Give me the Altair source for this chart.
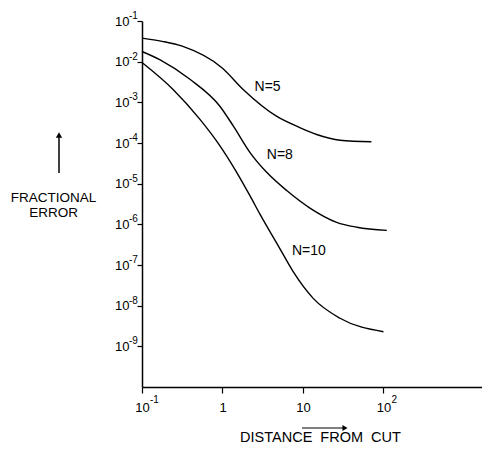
import altair as alt
import pandas as pd

# Readings from the picture (distance from cut, fractional error)
n5_x = [0.1, 0.178, 0.316, 1.0, 1.82, 4.68, 9.12, 14.8, 28.8, 70.8]
n5_y = [3.8e-2, 3.16e-2, 2.4e-2, 6.9e-3, 2.04e-3, 4.57e-4, 2.4e-4, 1.62e-4, 1.17e-4, 1.07e-4]

n8_x = [0.1, 0.166, 0.398, 0.933, 1.36, 2.2, 3.54, 6.28, 12.2, 26.2, 46.8, 110]
n8_y = [1.78e-2, 1.12e-2, 3.63e-3, 7.9e-4, 2.63e-4, 5.82e-5, 1.9e-5, 6.76e-6, 2.51e-6, 1.12e-6, 8.5e-7, 7.1e-7]

n10_x = [0.1, 0.245, 0.525, 0.93, 1.5, 2.2, 2.92, 5.18, 7.59, 13.4, 28.8, 100]
n10_y = [9.5e-3, 2.04e-3, 3.8e-4, 8.5e-5, 1.9e-5, 5.0e-6, 1.78e-6, 2.5e-7, 6.76e-8, 1.51e-8, 4.9e-9, 2.29e-9]

series_names = ["N=5", "N=8", "N=10"]
label_x = [2.5, 3.55, 7.3]
label_y = [2.45e-3, 5.2e-5, 2.2e-7]

x_ticks = [0.1, 1, 10, 100]
x_tick_exps = ["-1", "", "", "2"]
y_ticks = [1e-9, 1e-8, 1e-7, 1e-6, 1e-5, 1e-4, 1e-3, 1e-2, 1e-1]
y_tick_exps = ["-9", "-8", "-7", "-6", "-5", "-4", "-3", "-2", "-1"]

rows = []
for name, xs, ys in zip(series_names, [n5_x, n8_x, n10_x], [n5_y, n8_y, n10_y]):
    for i, (a, b) in enumerate(zip(xs, ys)):
        rows.append({"series": name, "order": i, "x": a, "y": b})
df = pd.DataFrame(rows)
labels_df = pd.DataFrame({"series": series_names, "x": label_x, "y": label_y})
yexp_df = pd.DataFrame({"y": y_ticks, "t": y_tick_exps})
xexp_df = pd.DataFrame({"x": x_ticks, "t": x_tick_exps})
xexp_df = xexp_df[xexp_df["t"] != ""]

FONT = "Liberation Sans"

xscale = alt.Scale(type="log", domain=[0.1, 1675], nice=False)
yscale = alt.Scale(type="log", domain=[1e-10, 1e-1], nice=False)

x_axis = alt.Axis(
    values=x_ticks, labelExpr="datum.value == 1 ? '1' : '10'", grid=False, tickSize=6, tickWidth=1.2,
    domainWidth=1.5, domainColor="black", tickColor="black",
    labelFont=FONT, labelFontSize=13, labelColor="black", labelPadding=8,
    labelBaseline="top", labelFlush=False,
    title="DISTANCE\u00a0\u00a0FROM\u00a0\u00a0CUT", titleFont=FONT, titleFontSize=14.5,
    titleFontWeight="normal", titleColor="black", titleX=178, titleY=54,
    titleAnchor="middle", titleAlign="center", titleBaseline="alphabetic",
)
y_axis = alt.Axis(
    values=y_ticks, labelExpr="'10'", grid=False, tickSize=5, tickWidth=1.2,
    domainWidth=1.5, domainColor="black", tickColor="black",
    labelFont=FONT, labelFontSize=13, labelColor="black", labelPadding=8,
    labelBaseline="middle",
    title=["FRACTIONAL", "ERROR"], titleFont=FONT, titleFontSize=13.5, titleFontWeight="normal",
    titleColor="black", titleAngle=0, titleX=-89, titleY=169, titleAlign="center",
    titleBaseline="top", titleLineHeight=15,
)

lines = alt.Chart(df).mark_line(color="black", strokeWidth=1.4, interpolate="monotone").encode(
    x=alt.X("x:Q", scale=xscale, axis=x_axis),
    y=alt.Y("y:Q", scale=yscale, axis=y_axis),
    detail="series:N",
    order="order:Q",
)

texts = alt.Chart(labels_df).mark_text(
    align="left", baseline="middle", font=FONT, fontSize=14, color="black"
).encode(
    x=alt.X("x:Q", scale=xscale),
    y=alt.Y("y:Q", scale=yscale),
    text="series:N",
)

y_exps = alt.Chart(yexp_df).mark_text(
    align="left", baseline="middle", font=FONT, fontSize=10, color="black", dy=-5
).encode(
    x=alt.value(-13),
    y=alt.Y("y:Q", scale=yscale),
    text="t:N",
)

x_exps = alt.Chart(xexp_df).mark_text(
    align="left", baseline="middle", font=FONT, fontSize=10, color="black", dx=8
).encode(
    x=alt.X("x:Q", scale=xscale),
    y=alt.value(378.5),
    text="t:N",
)

blank = alt.Data(values=[{}])
y_arrow = alt.Chart(blank).mark_rule(color="black", strokeWidth=1.5).encode(
    x=alt.value(-83), y=alt.value(114), y2=alt.value(152)
)
y_head = alt.Chart(blank).mark_point(shape="triangle-up", filled=True, color="black", size=40, opacity=1).encode(
    x=alt.value(-83), y=alt.value(114)
)
x_arrow = alt.Chart(blank).mark_rule(color="black", strokeWidth=1.2).encode(
    x=alt.value(160), x2=alt.value(202), y=alt.value(407)
)
x_head = alt.Chart(blank).mark_point(shape="triangle-right", filled=True, color="black", size=35, opacity=1).encode(
    x=alt.value(203), y=alt.value(407)
)

chart = alt.layer(lines, texts, y_exps, x_exps, y_arrow, y_head, x_arrow, x_head).properties(
    width=340, height=366,
    autosize=alt.AutoSizeParams(type="none"),
    padding={"left": 134, "top": 13, "right": 0, "bottom": 58},
    background="white",
).configure_view(stroke=None)

chart.save("out.html", embed_options={"renderer": "svg", "actions": False})
